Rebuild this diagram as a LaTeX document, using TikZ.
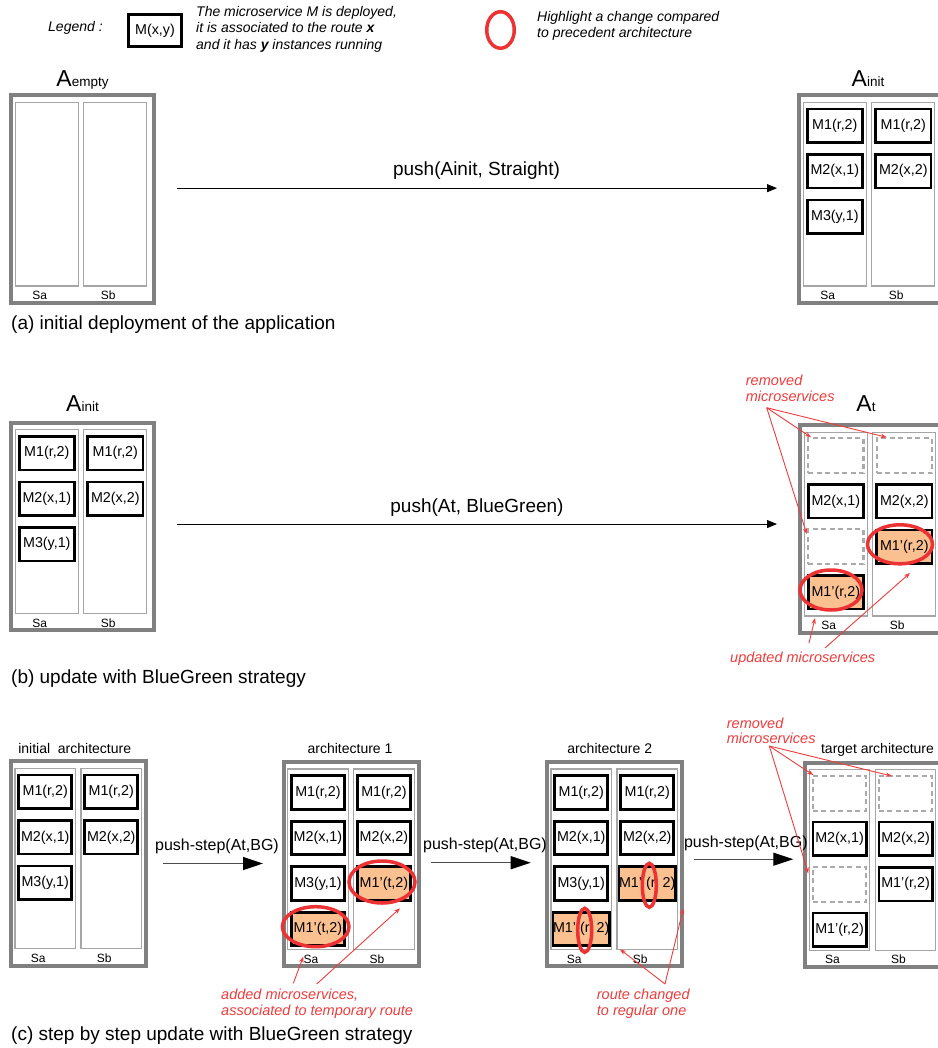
\documentclass[tikz,border=0pt]{standalone}
\usepackage{fontspec}
\setmainfont{Liberation Sans}
\usetikzlibrary{arrows.meta,calc,shapes.geometric}
\definecolor{hlred}{RGB}{236,50,50}
\definecolor{notered}{RGB}{240,60,60}
\definecolor{newfill}{RGB}{250,192,144}
\definecolor{outergray}{RGB}{128,128,128}
\definecolor{colgray}{RGB}{166,166,166}
\definecolor{dashgray}{RGB}{170,170,170}
\newcommand\fsz[1]{\fontsize{#1}{#1}\selectfont}
\def\bw{55.2}
\tikzset{
 outerbox/.style={draw=outergray, line width=4pt, outer sep=0pt, inner sep=0pt},
 colbox/.style={draw=colgray, line width=1.2pt, outer sep=0pt, inner sep=0pt},
 msbox/.style={draw=black, line width=2.8pt, outer sep=0pt, inner sep=0pt, minimum width=\bw, minimum height=33.5, font=\fsz{14.3}},
 newbox/.style={msbox, fill=newfill},
 gonebox/.style={draw=dashgray, line width=2.2pt, dash pattern=on 5pt off 3.5pt, outer sep=0pt, inner sep=0pt, minimum width=\bw, minimum height=35},
 collabel/.style={font=\fsz{12}, inner sep=0pt},
 archtitle/.style={anchor=base, inner sep=0pt},
 hlell/.style={draw=hlred, line width=3.5pt, ellipse, inner sep=0pt, outer sep=0pt},
 note/.style={text=notered, font=\fsz{14.5}\itshape, anchor=base west, inner sep=0pt},
 notearrow/.style={draw=notered, line width=0.9pt, -{Stealth[length=6pt,width=4.5pt]}},
 pusharrow/.style={draw=black, line width=1pt, -{Triangle[length=10pt,width=8pt]}},
 steparrow/.style={draw=black!70, line width=1.3pt, -{Triangle[length=20pt,width=13pt,color=black]}},
 pushlabel/.style={font=\fsz{19}, inner sep=0pt},
 steplabel/.style={font=\fsz{16}, inner sep=0pt},
 caption/.style={font=\fsz{19}, anchor=base west, inner sep=0pt},
 legtext/.style={font=\fsz{14}\itshape, anchor=base west, inner sep=0pt},
}
\newcommand\Arch[6]{%
  \node[outerbox, anchor=north west, minimum width=#4, minimum height=#5] (#1) at (#2,#3) {};
  \node[colbox, anchor=north west, minimum width=#6, minimum height={#5-24}] (#1a) at ($(#1.north west)+(4,7)$) {};
  \node[colbox, anchor=north west, minimum width=#6, minimum height={#5-24}] (#1b) at ($(#1a.north east)+(5.5,0)$) {};
  \node[collabel] (#1la) at ($(#1a.south)+(-7,9.5)$) {Sa};
  \node[collabel] (#1lb) at ($(#1b.south)+(-7,9.5)$) {Sb};
}
\newcommand\MS[5][msbox]{\node[#1] (#2) at ($(#3.north)+(0,{23.5+45.5*(#4-1)})$) {#5};}
\begin{document}
\begin{tikzpicture}[x=1pt,y=-1pt]
\fill[white] (0,0) rectangle (937,1048);
\useasboundingbox (0,0) rectangle (937,1048);

% ---------------- legend
\node[legtext] (lg0) at (48,32) {Legend :};
\node[msbox, minimum width=53, minimum height=32] (lgbox) at (155,30.5) {M(x,y)};
\node[legtext] (lg1) at (196,17) {The microservice M is deployed,};
\node[legtext] (lg2) at (196,33) {it is associated to the route \textbf{x}};
\node[legtext] (lg3) at (196,50) {and it has \textbf{y} instances running};
\node[hlell, minimum width=27.5, minimum height=36.5] (lgell) at (500.5,30) {};
\node[legtext] (lg4) at (537,22) {Highlight a change compared};
\node[legtext] (lg5) at (537,38) {to precedent architecture};

% ---------------- (a)
\Arch{aE}{11.3}{95.3}{142.4}{207.7}{63}
\node[archtitle] (aEt) at (82.5,86.7) {\fsz{23}A\fsz{13.5}empty};
\Arch{aI}{799.3}{95.3}{142.4}{207.7}{63}
\node[archtitle] (aIt) at (868,86.7) {\fsz{23}A\fsz{13.5}init};
\MS{aIa1}{aIa}{1}{M1(r,2)}
\MS{aIa2}{aIa}{2}{M2(x,1)}
\MS{aIa3}{aIa}{3}{M3(y,1)}
\MS{aIb1}{aIb}{1}{M1(r,2)}
\MS{aIb2}{aIb}{2}{M2(x,2)}
\draw[pusharrow, shorten <=23.3pt, shorten >=22.3pt] ([yshift=11pt]aE.east) -- ([yshift=11pt]aI.west)
  node[pushlabel, midway, yshift=18pt] (aLab) {push(Ainit, Straight)};
\node[caption] (capa) at (11,329) {(a) initial deployment of the application};

% ---------------- (b)
\Arch{bI}{11.3}{422.7}{142.4}{207.7}{63}
\node[archtitle] (bIt) at (82.5,411.7) {\fsz{23}A\fsz{13.5}init};
\MS{bIa1}{bIa}{1}{M1(r,2)}
\MS{bIa2}{bIa}{2}{M2(x,1)}
\MS{bIa3}{bIa}{3}{M3(y,1)}
\MS{bIb1}{bIb}{1}{M1(r,2)}
\MS{bIb2}{bIb}{2}{M2(x,2)}
\Arch{bT}{800.3}{425.3}{142.4}{207.7}{63}
\node[archtitle] (bTt) at (866,411.7) {\fsz{23}A\fsz{13.5}t};
\MS[gonebox]{bTa1}{bTa}{1}{}
\MS{bTa2}{bTa}{2}{M2(x,1)}
\MS[gonebox]{bTa3}{bTa}{3}{}
\MS[newbox]{bTa4}{bTa}{4}{M1'(r,2)}
\MS[gonebox]{bTb1}{bTb}{1}{}
\MS{bTb2}{bTb}{2}{M2(x,2)}
\MS[newbox]{bTb3}{bTb}{3}{M1'(r,2)}
\node[hlell, minimum width=62, minimum height=40] (bEa) at (831,590) {};
\node[hlell, minimum width=65, minimum height=39] (bEb) at (900,544.3) {};
\draw[pusharrow, shorten <=23.3pt, shorten >=23.3pt] ([yshift=2.5pt]bI.east) -- ([yshift=2.5pt]bI.east -| bT.west)
  node[pushlabel, midway, yshift=16pt] (bLab) {push(At, BlueGreen)};
\node[note] (bRm1) at (745.7,385.5) {removed};
\node[note] (bRm2) at (745.7,401) {microservices};
\coordinate (bRmS) at (766.7,407.7);
\coordinate (bRmT1) at (811,437.3);
\coordinate (bRmT2) at (886.7,437.3);
\coordinate (bRmT3) at (806.7,534);
\draw[notearrow] (bRmS) -- (bRmT1);
\draw[notearrow] (bRmS) -- (bRmT2);
\draw[notearrow] (bRmS) -- (bRmT3);
\node[note] (bUp) at (730,662) {updated microservices};
\coordinate (bUpS1) at (809,643);
\coordinate (bUpT1) at (815,618);
\coordinate (bUpS2) at (825,648);
\coordinate (bUpT2) at (910,573);
\draw[notearrow] (bUpS1) -- (bUpT1);
\draw[notearrow] (bUpS2) -- (bUpT2);
\node[caption] (capb) at (11,683) {(b) update with BlueGreen strategy};

% ---------------- (c)
\def\bw{53.2}
\Arch{c0}{11}{761.3}{135.3}{204.4}{60.5}
\node[archtitle, font=\fsz{14}] (c0t) at (74.7,753.5) {initial\ \ architecture};
\MS{c0a1}{c0a}{1}{M1(r,2)}
\MS{c0a2}{c0a}{2}{M2(x,1)}
\MS{c0a3}{c0a}{3}{M3(y,1)}
\MS{c0b1}{c0b}{1}{M1(r,2)}
\MS{c0b2}{c0b}{2}{M2(x,2)}

\Arch{c1}{283.7}{762}{135.3}{204.4}{60.5}
\node[archtitle, font=\fsz{14}] (c1t) at (350,753.5) {architecture 1};
\MS{c1a1}{c1a}{1}{M1(r,2)}
\MS{c1a2}{c1a}{2}{M2(x,1)}
\MS{c1a3}{c1a}{3}{M3(y,1)}
\MS[newbox]{c1a4}{c1a}{4}{M1'(t,2)}
\MS{c1b1}{c1b}{1}{M1(r,2)}
\MS{c1b2}{c1b}{2}{M2(x,2)}
\MS[newbox]{c1b3}{c1b}{3}{M1'(t,2)}
\node[hlell, minimum width=66.5, minimum height=40] (c1Ea) at (315.7,926.7) {};
\node[hlell, minimum width=66, minimum height=42] (c1Eb) at (382,882) {};

\Arch{c2}{547}{762}{135.3}{204.4}{60.5}
\node[archtitle, font=\fsz{14}] (c2t) at (609.7,753.5) {architecture 2};
\MS{c2a1}{c2a}{1}{M1(r,2)}
\MS{c2a2}{c2a}{2}{M2(x,1)}
\MS{c2a3}{c2a}{3}{M3(y,1)}
\MS[newbox]{c2a4}{c2a}{4}{M1' (r, 2)}
\MS{c2b1}{c2b}{1}{M1(r,2)}
\MS{c2b2}{c2b}{2}{M2(x,2)}
\MS[newbox]{c2b3}{c2b}{3}{M1' (r, 2)}
\node[hlell, minimum width=14, minimum height=44] (c2Ea) at (584.7,930.3) {};
\node[hlell, minimum width=14, minimum height=44] (c2Eb) at (649.3,885.3) {};

\Arch{c3}{805.3}{762.7}{135.3}{204.4}{60.5}
\node[archtitle, font=\fsz{14}] (c3t) at (877.5,753.5) {target architecture};
\MS[gonebox]{c3a1}{c3a}{1}{}
\MS{c3a2}{c3a}{2}{M2(x,1)}
\MS[gonebox]{c3a3}{c3a}{3}{}
\MS{c3a4}{c3a}{4}{M1'(r,2)}
\MS[gonebox]{c3b1}{c3b}{1}{}
\MS{c3b2}{c3b}{2}{M2(x,2)}
\MS{c3b3}{c3b}{3}{M1'(r,2)}

\draw[steparrow, shorten <=16.7pt, shorten >=20.7pt] (c0.east) -- (c0.east -| c1.west)
  node[steplabel, midway, xshift=2pt, yshift=17.5pt] (cLab1) {push-step(At,BG)};
\draw[steparrow, shorten <=11.7pt, shorten >=16.3pt] ([yshift=1.5pt]c1.east) -- ([yshift=1.5pt]c1.east -| c2.west)
  node[steplabel, midway, xshift=2pt, yshift=17.5pt] (cLab2) {push-step(At,BG)};
\draw[steparrow, shorten <=12pt, shorten >=12pt] ([yshift=5pt]c2.east) -- ([yshift=5pt]c2.east -| c3.west)
  node[steplabel, midway, xshift=2pt, yshift=16pt] (cLab3) {push-step(At,BG)};

\node[note] (cRm1) at (726.7,728) {removed};
\node[note] (cRm2) at (726.7,743) {microservices};
\coordinate (cRmS) at (769.3,746);
\coordinate (cRmT1) at (813.3,775);
\coordinate (cRmT2) at (891.7,776);
\coordinate (cRmT3) at (808.3,873.3);
\draw[notearrow] (cRmS) -- (cRmT1);
\draw[notearrow] (cRmS) -- (cRmT2);
\draw[notearrow] (cRmS) -- (cRmT3);

\node[note] (cAd1) at (221,999.5) {added microservices,};
\node[note] (cAd2) at (221,1015) {associated to temporary route};
\coordinate (cAdS1) at (293.3,983.3);
\coordinate (cAdT1) at (303.3,956.7);
\coordinate (cAdS2) at (316.7,984);
\coordinate (cAdT2) at (400,908.3);
\draw[notearrow] (cAdS1) -- (cAdT1);
\draw[notearrow] (cAdS2) -- (cAdT2);

\node[note] (cRt1) at (596.7,999.5) {route changed};
\node[note] (cRt2) at (596.7,1015) {to regular one};
\coordinate (cRtS) at (665,984);
\coordinate (cRtT1) at (620,949.3);
\coordinate (cRtT2) at (683.3,908.3);
\draw[notearrow] (cRtS) -- (cRtT1);
\draw[notearrow] (cRtS) -- (cRtT2);

\node[caption] (capc) at (11,1040) {(c) step by step update with BlueGreen strategy};
\end{tikzpicture}
\end{document}
